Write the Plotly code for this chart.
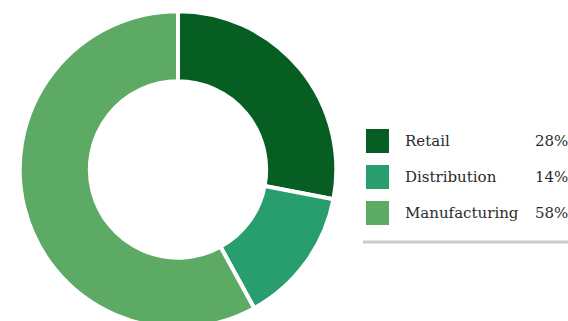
import plotly.graph_objects as go

categories = ["Retail", "Distribution", "Manufacturing"]
values = [28, 14, 58]
colors = ["#065e23", "#289d6e", "#5daa65"]

W, H = 568, 330

def px(x):
    return x / W

def py(y):
    return 1 - y / H

fig = go.Figure()
fig.add_trace(go.Pie(
    labels=categories,
    values=values,
    sort=False,
    direction="clockwise",
    rotation=0,
    hole=0.557,
    marker=dict(colors=colors, line=dict(color="white", width=4)),
    textinfo="none",
    hoverinfo="label+percent",
    showlegend=False,
    domain=dict(x=[px(19.7), px(336.3)], y=[py(327.8), py(11.2)]),
))

shapes = []
annotations = []
row_y = [141, 177, 213]
for i, (cat, val, col) in enumerate(zip(categories, values, colors)):
    yc = row_y[i]
    shapes.append(dict(type="rect", xref="paper", yref="paper",
                       x0=px(366), x1=px(389), y0=py(yc - 12), y1=py(yc + 12),
                       fillcolor=col, line=dict(width=0)))
    annotations.append(dict(x=px(403), y=py(yc), xref="paper", yref="paper",
                            text=cat, showarrow=False, xanchor="left", yanchor="middle",
                            font=dict(family="DejaVu Serif", size=15, color="#2b2b2b")))
    annotations.append(dict(x=px(570), y=py(yc), xref="paper", yref="paper",
                            text=f"{val}%", showarrow=False, xanchor="right", yanchor="middle",
                            font=dict(family="DejaVu Serif", size=15, color="#2b2b2b")))

shapes.append(dict(type="line", xref="paper", yref="paper",
                   x0=px(363), x1=1, y0=py(242), y1=py(242),
                   line=dict(color="#cccccc", width=3)))

fig.update_layout(
    width=W, height=H,
    margin=dict(l=0, r=0, t=0, b=0),
    paper_bgcolor="white",
    plot_bgcolor="white",
    shapes=shapes,
    annotations=annotations,
)

fig.write_html(
    "out.html",
    post_script="document.documentElement.style.overflow='hidden';document.body.style.overflow='hidden';",
)
